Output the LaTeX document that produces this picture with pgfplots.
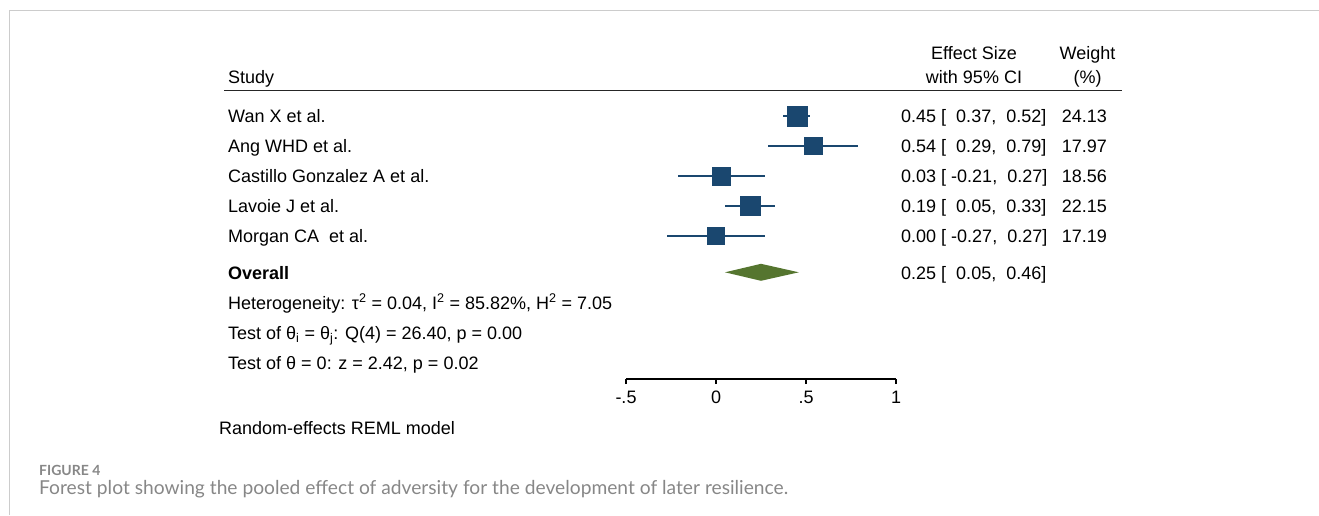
\documentclass[border=0pt]{standalone}
\usepackage{fontspec}
\setmainfont{Liberation Sans}
\newfontfamily\capfont{Lato}
\usepackage{pgfplots}
\usepackage{pgfplotstable}
\pgfplotsset{compat=1.18}

\definecolor{esblue}{HTML}{1A476F}
\definecolor{esgreen}{HTML}{55752F}
\definecolor{framegray}{HTML}{CCCCCC}
\definecolor{capgray}{HTML}{878787}

% row = vertical position of each study line, es = effect size,
% lo/hi = 95% CI, w = weight (%)
\pgfplotstableread{
row es lo hi w
116 0.45 0.37 0.52 24.13
146 0.54 0.29 0.79 17.97
176 0.03 -0.21 0.27 18.56
206 0.19 0.05 0.33 22.15
236 0.00 -0.27 0.27 17.19
}\studies

\begin{document}
\begin{tikzpicture}
% plotting area: 180pt per unit of effect size, zero at 716pt
\begin{axis}[
  at={(0pt,0pt)}, anchor=south west,
  scale only axis, width=1319pt, height=515pt,
  xmin=-3.977778, xmax=3.35, ymin=0, ymax=515, y dir=reverse,
  hide axis, clip=false]
  % confidence intervals
  \addplot[only marks, mark=none,
    error bars/.cd, x dir=both, x explicit, error mark=none,
    error bar style={esblue, line width=1.3pt}]
    table[x=es, y=row,
      x error plus expr=\thisrow{hi}-\thisrow{es},
      x error minus expr=\thisrow{es}-\thisrow{lo}] {\studies};
  % study boxes, area proportional to weight
  \addplot[scatter, only marks, mark=square*,
    scatter/use mapped color={draw=esblue, fill=esblue},
    visualization depends on={2.035*sqrt(\thisrow{w}) \as \msize},
    scatter/@pre marker code/.append style={/tikz/mark size=\msize}]
    table[x=es, y=row] {\studies};
  % overall estimate
  \addplot[fill=esgreen, draw=none]
    coordinates {(0.05,272.3) (0.25,263.8) (0.46,272.3) (0.25,280.8)} -- cycle;
\end{axis}

% effect-size axis
\begin{axis}[
  at={(626pt,136pt)}, anchor=south west,
  scale only axis, width=270pt, height=10pt,
  xmin=-0.5, xmax=1, ymin=0, ymax=1,
  axis x line*=bottom, axis y line=none,
  xtick={-0.5,0,0.5,1}, xticklabels={{-.5},{0},{.5},{1}},
  tick align=outside, major tick length=5pt,
  tick style={black, line width=1.2pt},
  axis line style={black, line width=1.2pt},
  xticklabel style={font=\fontsize{18}{21}\selectfont, inner sep=0pt, yshift=-7pt},
  /pgf/number format/assume math mode=true]
\end{axis}

\begin{scope}[x=1pt, y=-1pt, shift={(0pt,515pt)},
  every node/.style={inner sep=0pt, font=\fontsize{18}{21}\selectfont}]
  % frame
  \draw[framegray, line width=1pt] (9.5,515) -- (9.5,11) -- (1319,11);
  % header
  \node[anchor=base west] at (228,83.5) {Study};
  \node[anchor=base] at (974,60) {Effect Size};
  \node[anchor=base] at (974,84) {with 95\% CI};
  \node[anchor=base] at (1087.5,60) {Weight};
  \node[anchor=base] at (1087.5,84) {(\%)};
  \draw[line width=1.3pt, black!85] (224,90.5) -- (1122,90.5);
  % study labels
  \node[anchor=base west] at (228,122.5) {Wan X et al.};
  \node[anchor=base west] at (228,152.5) {Ang WHD et al.};
  \node[anchor=base west] at (228,182.5) {Castillo Gonzalez A et al.};
  \node[anchor=base west] at (228,212.5) {Lavoie J et al.};
  \node[anchor=base west] at (228,242.5) {Morgan CA\ \ et al.};
  \node[anchor=base west] at (228,279) {\bfseries Overall};
  % estimates
  \node[anchor=base west] at (901,122.5) {0.45 [\ \ 0.37,\ \ 0.52]};
  \node[anchor=base west] at (901,152.5) {0.54 [\ \ 0.29,\ \ 0.79]};
  \node[anchor=base west] at (901,182.5) {0.03 [ -0.21,\ \ 0.27]};
  \node[anchor=base west] at (901,212.5) {0.19 [\ \ 0.05,\ \ 0.33]};
  \node[anchor=base west] at (901,242.5) {0.00 [ -0.27,\ \ 0.27]};
  \node[anchor=base west] at (901,279) {0.25 [\ \ 0.05,\ \ 0.46]};
  % weights
  \node[anchor=base east] at (1107,122.5) {24.13};
  \node[anchor=base east] at (1107,152.5) {17.97};
  \node[anchor=base east] at (1107,182.5) {18.56};
  \node[anchor=base east] at (1107,212.5) {22.15};
  \node[anchor=base east] at (1107,242.5) {17.19};
  % heterogeneity and tests
  \node[anchor=base west] at (228,309) {Heterogeneity: τ\textsuperscript{2} = 0.04, I\textsuperscript{2} = 85.82\%, H\textsuperscript{2} = 7.05};
  \node[anchor=base west] at (228,339) {Test of θ\textsubscript{i} = θ\textsubscript{j}: Q(4) = 26.40, p = 0.00};
  \node[anchor=base west] at (228,369) {Test of θ = 0: z = 2.42, p = 0.02};
  \node[anchor=base west] at (219,434) {Random-effects REML model};
  % caption
  \node[anchor=base west, text=capgray, font=\capfont\bfseries\fontsize{14}{16}\selectfont] at (39,475) {FIGURE 4};
  \node[anchor=base west, text=capgray, font=\capfont\fontsize{19.2}{22}\selectfont] at (39,494) {Forest plot showing the pooled effect of adversity for the development of later resilience.};
  \pgfresetboundingbox
  \path[use as bounding box] (0,0) rectangle (1319,515);
\end{scope}
\end{tikzpicture}
\end{document}
